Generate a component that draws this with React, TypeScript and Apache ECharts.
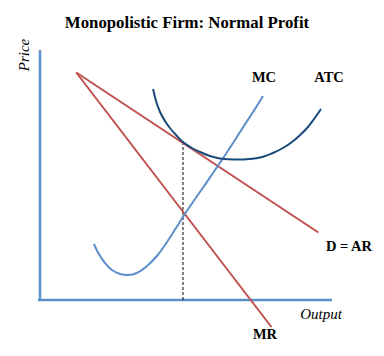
import React, { useEffect, useRef } from "react";
import * as echarts from "echarts";

const title = "Monopolistic Firm: Normal Profit";
const demand: [number, number][] = [[1.25, 9.1], [9.6, 2.7]];
const marginalRevenue: [number, number][] = [[1.25, 9.1], [7.98, -1.08]];
const atc: [number, number][] = [
  [3.9, 8.44], [4.0, 7.96], [4.14, 7.52], [4.31, 7.16], [4.48, 6.88], [4.69, 6.6],
  [4.93, 6.32], [5.24, 6.08], [5.52, 5.92], [5.86, 5.76], [6.21, 5.66], [6.72, 5.62],
  [7.24, 5.64], [7.66, 5.72], [8.03, 5.88], [8.38, 6.08], [8.69, 6.32], [8.97, 6.6],
  [9.21, 6.88], [9.45, 7.24], [9.69, 7.64],
];
const mc: [number, number][] = [
  [1.86, 2.24], [2.03, 1.84], [2.24, 1.48], [2.48, 1.2], [2.76, 1.04], [3.03, 1.0],
  [3.34, 1.08], [3.69, 1.36], [4.03, 1.76], [4.38, 2.32], [4.69, 2.88], [4.97, 3.4],
  [5.31, 3.98], [5.66, 4.56], [6.0, 5.14], [6.34, 5.72], [6.69, 6.34], [7.03, 6.96],
  [7.38, 7.58], [7.69, 8.16],
];
const quantity = 4.93;
const price = 6.3;
const xAxisLine: [number, number][] = [[-0.07, 0], [10.07, 0]];
const yAxisLine: [number, number][] = [[0, 0], [0, 10]];

export default function App() {
  const ref = useRef<HTMLDivElement>(null);
  useEffect(() => {
    if (!ref.current) return;
    const chart = echarts.init(ref.current, null, { renderer: "svg" });
    const serif = "'Liberation Serif', 'DejaVu Serif', serif";
    const line = (data: [number, number][], color: string, width: number, smooth: any = false, type: any = "solid") => ({
      type: "line",
      data,
      smooth,
      symbol: "none",
      lineStyle: { color, width, type },
      z: 3,
    });
    chart.setOption({
      animation: false,
      backgroundColor: "#ffffff",
      grid: { left: 40, top: 50, width: 290, height: 300 },
      xAxis: { type: "value", min: 0, max: 10, show: false },
      yAxis: { type: "value", min: -2, max: 10, show: false },
      series: [
        line(xAxisLine, "#5b8fcc", 2.5),
        line(yAxisLine, "#5b8fcc", 2.5),
        line([[quantity, 0], [quantity, price]], "#000000", 1, false, [3, 2]),
        line(demand, "#c0504d", 2),
        line(marginalRevenue, "#c0504d", 2),
        line(mc, "#5a8fcb", 2, 0.4),
        line(atc, "#1a4a7a", 2, 0.4),
      ],
      graphic: [
        { type: "text", x: 187, y: 22.5, style: { text: title, font: `bold 16.8px ${serif}`, fill: "#000", align: "center", verticalAlign: "middle" } },
        { type: "text", x: 24, y: 55, rotation: Math.PI / 2, style: { text: "Price", font: `italic 15px ${serif}`, fill: "#000", align: "center", verticalAlign: "middle" } },
        { type: "text", x: 264, y: 77, style: { text: "MC", font: `bold 14.5px ${serif}`, fill: "#000", align: "center", verticalAlign: "middle" } },
        { type: "text", x: 329, y: 77, style: { text: "ATC", font: `bold 14.5px ${serif}`, fill: "#000", align: "center", verticalAlign: "middle" } },
        { type: "text", x: 349, y: 246, style: { text: "D = AR", font: `bold 14.5px ${serif}`, fill: "#000", align: "center", verticalAlign: "middle" } },
        { type: "text", x: 321, y: 314, style: { text: "Output", font: `italic 15px ${serif}`, fill: "#000", align: "center", verticalAlign: "middle" } },
        { type: "text", x: 265, y: 334, style: { text: "MR", font: `bold 14.5px ${serif}`, fill: "#000", align: "center", verticalAlign: "middle" } },
      ],
    });
    return () => chart.dispose();
  }, []);
  return <div ref={ref} style={{ position: "fixed", left: 0, top: 0, width: 384, height: 356 }} />;
}
